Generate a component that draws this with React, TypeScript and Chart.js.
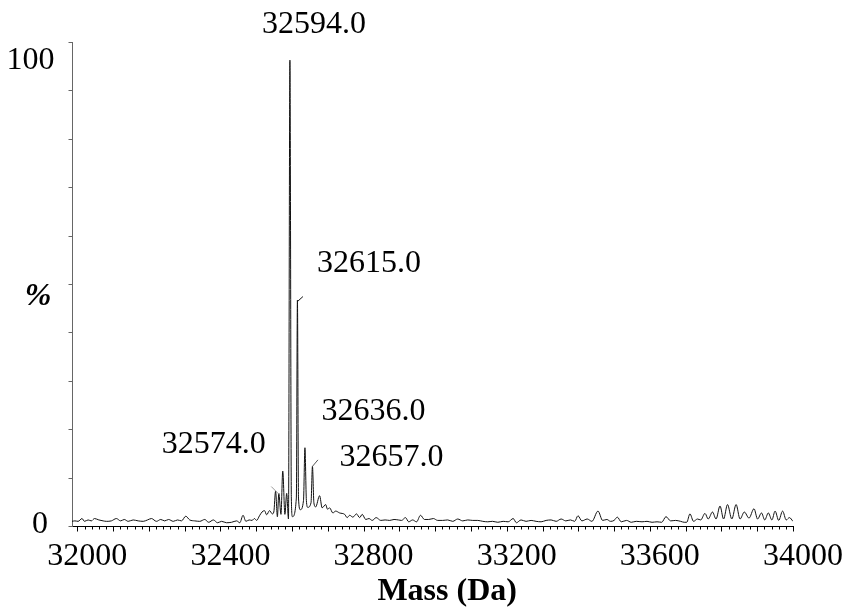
import React, { useEffect, useRef } from 'react';
import { Chart, registerables } from 'chart.js';

Chart.register(...registerables);

// ---- data ----
const masses: number[] = [
  31985, 31993, 32002, 32013, 32020, 32030, 32039, 32048, 32060, 32072,
  32081, 32095, 32109, 32121, 32131, 32142, 32156, 32170, 32184, 32196,
  32207, 32221, 32233, 32244, 32255, 32268, 32280, 32291, 32303, 32314,
  32328, 32342, 32356, 32367, 32380, 32392, 32403, 32417, 32431, 32445,
  32454, 32463, 32471, 32480, 32488, 32495, 32501, 32509, 32516, 32523,
  32529, 32537, 32545, 32549, 32554, 32559, 32563, 32569, 32574, 32580,
  32585, 32590, 32594, 32598, 32601, 32612, 32615, 32618, 32623, 32632,
  32636, 32640, 32644, 32653, 32657, 32661, 32666,
  32677, 32684, 32694, 32699, 32705, 32714, 32722, 32733, 32747, 32754,
  32761, 32770, 32780, 32789, 32796, 32806, 32815, 32824, 32835, 32848,
  32860, 32873, 32885, 32897, 32906, 32917, 32926, 32937, 32948, 32959,
  32970, 32982, 32995, 33007, 33021, 33035, 33049, 33063, 33077, 33091,
  33105, 33119, 33133, 33147, 33160, 33175, 33190, 33204, 33218, 33227,
  33240, 33254, 33268, 33282, 33296, 33310, 33324, 33338, 33352, 33365,
  33378, 33390, 33399, 33410, 33425, 33438, 33455, 33468, 33480, 33490,
  33500, 33509, 33520, 33535, 33548, 33562, 33578, 33592, 33606, 33620,
  33633, 33645, 33658, 33672, 33686, 33696, 33703, 33712, 33722, 33733,
  33742, 33754, 33763, 33775, 33785, 33796, 33806, 33817, 33829, 33841,
  33852, 33864, 33877, 33891, 33901, 33912, 33921, 33931, 33941, 33950,
  33960, 33971, 33981, 33990, 34000,
];

const intensities: number[] = [
  1.0, 1.1, 1.0, 1.6, 1.0, 1.3, 1.1, 1.6, 1.3, 1.1,
  1.0, 1.1, 1.6, 1.1, 1.4, 1.0, 1.3, 1.1, 1.0, 1.3,
  1.6, 1.0, 1.4, 1.1, 1.4, 1.0, 1.3, 1.1, 2.1, 1.3,
  1.1, 1.0, 1.4, 0.8, 1.3, 0.7, 1.0, 0.7, 0.8, 1.1,
  0.7, 2.3, 1.0, 1.3, 1.2, 1.6, 1.2, 2.2, 3.0, 3.3,
  2.4, 3.3, 2.6, 3.0, 7.5, 2.0, 7.0, 2.5, 11.8, 2.5,
  7.0, 1.5, 100, 6.0, 2.0, 6.0, 48.5, 6.0, 3.5, 5.5,
  16.8, 5.5, 4.0, 5.0, 12.8, 5.0, 4.1,
  6.5, 3.9, 4.6, 3.6, 3.9, 2.8, 3.2, 2.8, 2.5, 1.8,
  2.3, 1.9, 2.6, 1.8, 2.5, 1.4, 1.6, 1.2, 1.8, 1.2,
  1.3, 1.2, 1.4, 1.3, 1.2, 1.8, 0.9, 1.3, 0.9, 2.3,
  1.4, 1.4, 1.6, 1.2, 1.2, 1.3, 1.0, 1.5, 1.1, 1.3,
  1.2, 1.2, 1.0, 0.9, 1.0, 0.8, 1.0, 0.9, 1.6, 0.7,
  1.3, 1.0, 1.2, 1.0, 0.9, 1.2, 1.3, 1.0, 1.5, 1.1,
  1.3, 1.0, 2.2, 1.1, 1.5, 1.0, 3.2, 1.2, 1.4, 1.0,
  1.2, 1.9, 0.9, 1.2, 0.8, 1.0, 0.9, 1.0, 0.8, 0.9,
  0.8, 2.0, 1.1, 1.2, 1.0, 0.8, 0.8, 2.6, 1.0, 1.5,
  1.3, 2.7, 1.5, 3.0, 1.5, 4.3, 1.5, 4.6, 1.5, 4.6,
  1.5, 3.0, 1.7, 3.7, 1.5, 2.8, 1.3, 2.8, 1.3, 3.2,
  1.2, 3.2, 1.3, 1.8, 1.0,
];

// labelled peaks
const peakMasses: number[] = [32574, 32594, 32615, 32636, 32657];
const peakHeights: number[] = [11.8, 100, 48.5, 16.8, 12.8];
const peakLabels: string[] = ['32574.0', '32594.0', '32615.0', '32636.0', '32657.0'];

// axis ticks
const xMin = 31985;
const xMax = 34000;
const xLabelValues: number[] = [32000, 32400, 32800, 33200, 33600, 34000];
const xMinorStep = 20;
const xMajorStep = 100;
const yMax = 103.9;
const yTickCount = 10;
const yLabelValues: number[] = [0, 100];
const yLabelTexts: string[] = ['0', '100'];
const xTitle = 'Mass (Da)';
const yTitle = '%';

// ---- styling / placement (pixels) ----
const FONT = "'Liberation Serif', 'Times New Roman', Times, serif";
const FONT_SIZE = 32;
// label centre x offset and baseline offset from the peak top pixel
const peakLabelOffsets = [
  { dx: -69, dy: -18 },
  { dx: 24, dy: -27 },
  { dx: 71.5, dy: -28.5 },
  { dx: 68.5, dy: -28 },
  { dx: 79, dy: 0 },
];
// leader lines (relative to peak top pixel)
const leaders = [
  { i: 0, x1: -4, y1: 23, x2: -11.5, y2: 15.5, color: '#9a9a9a' },
  { i: 2, x1: 0, y1: 1.5, x2: 5.5, y2: -3.5, color: '#111' },
  { i: 4, x1: 0, y1: 0, x2: 5.5, y2: -6.5, color: '#555' },
];
const yLabelPlacement = [
  { right: 24, dy: 7 },
  { right: 17.5, dy: 9 },
];

const overlayPlugin = {
  id: 'specOverlay',
  afterDraw(chart: any) {
    const { ctx, scales } = chart;
    const x = scales.x;
    const y = scales.y;
    ctx.save();
    const yb = Math.round(y.getPixelForValue(0)) + 0.5;
    const axisX = Math.round(x.left) + 0.5;

    // x tick marks
    ctx.strokeStyle = '#000';
    ctx.lineWidth = 1;
    for (let v = xLabelValues[0]; v <= xMax; v += xMinorStep) {
      const px = Math.round(x.getPixelForValue(v)) + 0.5;
      const len = v % xMajorStep === 0 ? 5 : 3;
      ctx.beginPath();
      ctx.moveTo(px, yb);
      ctx.lineTo(px, yb + len);
      ctx.stroke();
    }

    // y tick marks
    ctx.strokeStyle = '#666';
    for (let k = 0; k <= yTickCount; k++) {
      const py = Math.round(y.getPixelForValue((yMax * k) / yTickCount)) + 0.5;
      ctx.beginPath();
      ctx.moveTo(axisX - 4, py);
      ctx.lineTo(axisX, py);
      ctx.stroke();
    }

    // y labels
    ctx.fillStyle = '#000';
    ctx.font = `${FONT_SIZE}px ${FONT}`;
    ctx.textAlign = 'right';
    ctx.textBaseline = 'alphabetic';
    yLabelValues.forEach((v, i) => {
      const py = y.getPixelForValue(v);
      ctx.fillText(yLabelTexts[i], x.left - yLabelPlacement[i].right, py + yLabelPlacement[i].dy);
    });

    // peak labels
    ctx.textAlign = 'center';
    peakMasses.forEach((m, i) => {
      const px = x.getPixelForValue(m);
      const py = y.getPixelForValue(peakHeights[i]);
      const o = peakLabelOffsets[i];
      ctx.fillText(peakLabels[i], px + o.dx, py + o.dy);
    });

    // leader lines
    ctx.lineWidth = 1;
    leaders.forEach((l) => {
      const px = x.getPixelForValue(peakMasses[l.i]);
      const py = y.getPixelForValue(peakHeights[l.i]);
      ctx.strokeStyle = l.color;
      ctx.beginPath();
      ctx.moveTo(px + l.x1, py + l.y1);
      ctx.lineTo(px + l.x2, py + l.y2);
      ctx.stroke();
    });

    // axis titles
    ctx.font = `bold ${FONT_SIZE}px ${FONT}`;
    ctx.textAlign = 'center';
    ctx.fillText(xTitle, x.getPixelForValue(33000) + 12, 600);
    ctx.font = `italic bold ${FONT_SIZE}px ${FONT}`;
    ctx.fillText(yTitle, 38, y.getPixelForValue(50) + 12);
    ctx.restore();
  },
};

export default function App() {
  const canvasRef = useRef<HTMLCanvasElement | null>(null);

  useEffect(() => {
    const canvas = canvasRef.current;
    if (!canvas) return;
    const points = masses.map((m, i) => ({ x: m, y: intensities[i] }));
    const chart = new Chart(canvas, {
      type: 'line',
      data: {
        datasets: [
          {
            data: points,
            borderColor: '#111',
            borderWidth: 1,
            pointRadius: 0,
            fill: false,
            cubicInterpolationMode: 'monotone',
          },
        ],
      },
      options: {
        animation: false,
        responsive: false,
        events: [],
        parsing: false,
        layout: { padding: { top: 42, right: 53, left: 0, bottom: 0 } },
        plugins: { legend: { display: false }, tooltip: { enabled: false } },
        scales: {
          x: {
            type: 'linear',
            min: xMin,
            max: xMax,
            afterFit: (s: any) => {
              s.height = 82;
            },
            afterBuildTicks: (s: any) => {
              s.ticks = xLabelValues.map((v) => ({ value: v }));
            },
            grid: { display: false, drawTicks: false },
            border: { display: true, color: '#000', width: 1 },
            ticks: {
              autoSkip: false,
              maxRotation: 0,
              padding: 11,
              labelOffset: 10,
              color: '#000',
              font: { family: FONT, size: FONT_SIZE },
              callback: (v: any) => String(v),
            },
          },
          y: {
            type: 'linear',
            min: 0,
            max: yMax,
            afterFit: (s: any) => {
              s.width = 72;
            },
            grid: { display: false, drawTicks: false },
            border: { display: true, color: '#666', width: 1 },
            ticks: { display: false },
          },
        },
      },
      plugins: [overlayPlugin],
    });
    return () => chart.destroy();
  }, []);

  return (
    <div style={{ position: 'absolute', left: 0, top: 0, width: 846, height: 608, background: '#fff' }}>
      <canvas ref={canvasRef} width={846} height={608} />
    </div>
  );
}
